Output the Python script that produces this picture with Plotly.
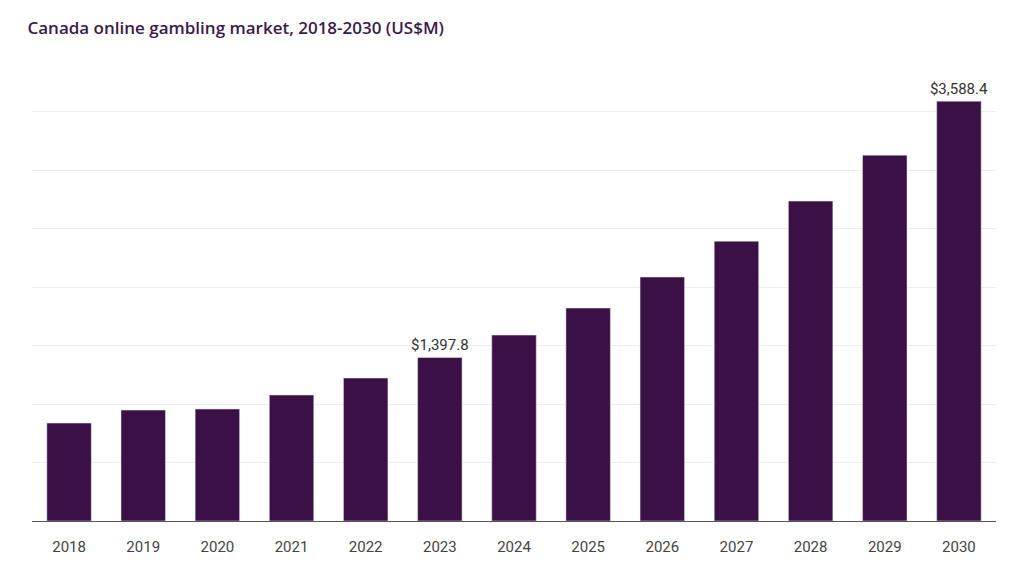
import plotly.graph_objects as go

years = ["2018","2019","2020","2021","2022","2023","2024","2025","2026","2027","2028","2029","2030"]
values = [837, 948, 957, 1077, 1222, 1397.8, 1589, 1820, 2085, 2392, 2734, 3127, 3588.4]
labels = ["", "", "", "", "", "$1,397.8", "", "", "", "", "", "", "$3,588.4"]

fig = go.Figure(go.Bar(
    x=years, y=values, text=labels, textposition="outside", constraintext="none",
    textfont=dict(family="Roboto, Arial", size=15, color="#333"),
    marker_color="#3a1046", width=0.6, cliponaxis=False,
))
fig.update_layout(
    width=1024, height=579, plot_bgcolor="white", paper_bgcolor="white",
    margin=dict(l=24, r=36, t=45, b=66),
    title=dict(text="Canada online gambling market, 2018-2030 (US$M)", x=0.019, y=0.975,
               xanchor="left", yanchor="top",
               font=dict(family="Open Sans", size=17, color="#3a1a4a", weight=600)),
    showlegend=False,
)
fig.update_yaxes(range=[0, 4000], dtick=500, showticklabels=False,
                 gridcolor="#eeeeee", zeroline=False)
fig.update_xaxes(showline=True, linecolor="#555", linewidth=1, ticks="", ticklabelstandoff=12,
                 tickfont=dict(family="Roboto, Arial", size=15, color="#444"))
fig.write_html("out.html")
